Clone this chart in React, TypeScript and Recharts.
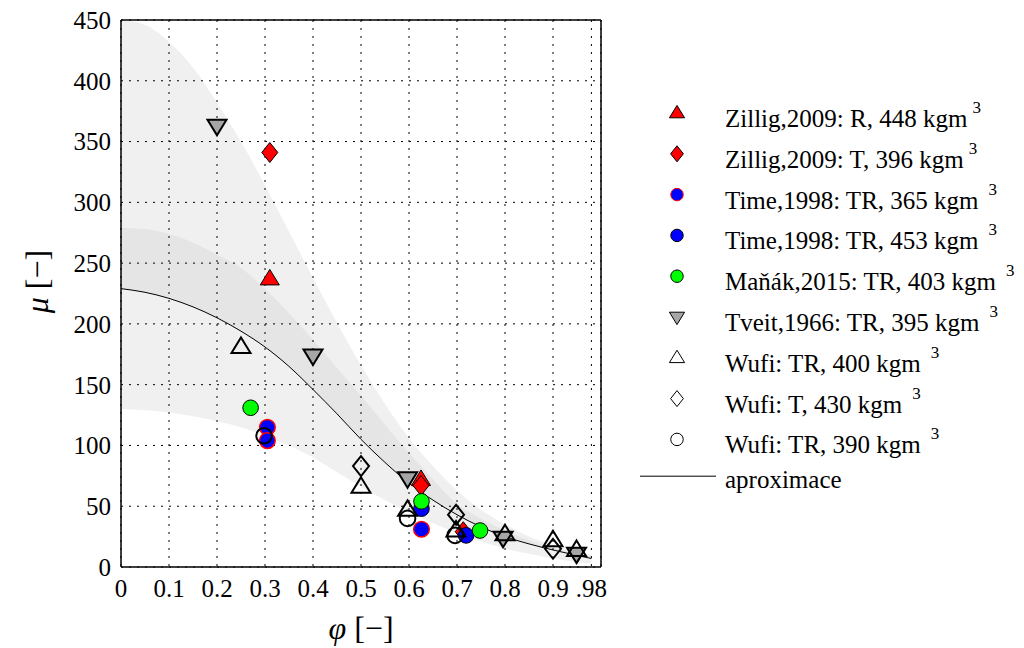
import React from "react";
import {
  ComposedChart,
  Area,
  Line,
  Scatter,
  XAxis,
  YAxis,
  CartesianGrid,
} from "recharts";

const FONT = "Liberation Serif";

// approximation curve with its two uncertainty bands
const fitPhi = [0, 0.05, 0.1, 0.15, 0.2, 0.25, 0.3, 0.35, 0.4, 0.45, 0.5, 0.55, 0.6, 0.65, 0.7, 0.75, 0.8, 0.85, 0.9, 0.95, 0.98];
const fitMu = [229, 226, 221, 214, 205, 194, 181, 165, 146, 126, 105, 86, 69, 55, 43, 33, 25, 19, 14, 9.5, 7];
const outerLow = [130, 129, 127, 124, 120, 115, 108, 100, 90, 78, 66, 55, 45, 36, 28, 21, 15, 11, 7, 4, 3];
const outerHigh = [450, 446, 432, 411, 382, 350, 314, 276, 238, 201, 166, 134, 106, 83, 63, 47, 35, 25, 18, 12, 10];
const innerHigh = [279, 278, 274, 267, 257, 246, 229, 209, 187, 164, 141, 117, 94, 72, 52, 40, 30, 22, 16, 11, 9];

// measured points
const zilligR = [{ x: 0.31, y: 237 }, { x: 0.625, y: 72 }];
const zilligT = [{ x: 0.31, y: 341 }, { x: 0.625, y: 67 }, { x: 0.713, y: 29 }];
const time365 = [{ x: 0.305, y: 115 }, { x: 0.305, y: 104 }, { x: 0.626, y: 31 }];
const time453 = [{ x: 0.626, y: 48 }, { x: 0.719, y: 26 }];
const manak = [{ x: 0.27, y: 131 }, { x: 0.626, y: 54 }, { x: 0.748, y: 30 }];
const tveit = [{ x: 0.2, y: 363 }, { x: 0.4, y: 174 }, { x: 0.597, y: 73 }, { x: 0.796, y: 24 }, { x: 0.949, y: 11 }];
const wufi400 = [{ x: 0.25, y: 181 }, { x: 0.5, y: 66 }, { x: 0.597, y: 47 }, { x: 0.698, y: 30 }, { x: 0.8, y: 27 }, { x: 0.9, y: 22 }, { x: 0.949, y: 14 }];
const wufi430 = [{ x: 0.5, y: 83 }, { x: 0.698, y: 43 }, { x: 0.9, y: 15 }];
const wufi390 = [{ x: 0.298, y: 108 }, { x: 0.597, y: 40 }, { x: 0.696, y: 26 }];

const xTicks = [0, 0.1, 0.2, 0.3, 0.4, 0.5, 0.6, 0.7, 0.8, 0.9, 0.98];
const xTickLabels = ["0", "0.1", "0.2", "0.3", "0.4", "0.5", "0.6", "0.7", "0.8", "0.9", ".98"];
const xMinorTicks = [0.05, 0.1, 0.15, 0.2, 0.25, 0.3, 0.35, 0.4, 0.45, 0.5, 0.55, 0.6, 0.65, 0.7, 0.75, 0.8, 0.85, 0.9, 0.95];
const yTicks = [0, 50, 100, 150, 200, 250, 300, 350, 400, 450];

const bandRows = fitPhi.map((x, i) => ({
  x,
  fit: fitMu[i],
  outer: [outerLow[i], outerHigh[i]],
  inner: [fitMu[i], innerHigh[i]],
}));

type Sym = "up" | "down" | "diamond" | "circle";

const SERIES: { name: string; data: { x: number; y: number }[]; sym: Sym; fill: string; stroke: string; sw: number }[] = [
  { name: "Zillig,2009: R, 448 kgm", data: zilligR, sym: "up", fill: "#ff0000", stroke: "#000", sw: 1 },
  { name: "Zillig,2009: T, 396 kgm", data: zilligT, sym: "diamond", fill: "#ff0000", stroke: "#000", sw: 1 },
  { name: "Time,1998: TR, 365 kgm", data: time365, sym: "circle", fill: "#0000ff", stroke: "#ff0000", sw: 1.5 },
  { name: "Time,1998: TR, 453 kgm", data: time453, sym: "circle", fill: "#0000ff", stroke: "#000", sw: 1 },
  { name: "Maňák,2015: TR, 403 kgm", data: manak, sym: "circle", fill: "#00ff00", stroke: "#000", sw: 1 },
  { name: "Tveit,1966: TR, 395 kgm", data: tveit, sym: "down", fill: "#a6a6a6", stroke: "#000", sw: 2 },
  { name: "Wufi: TR, 400 kgm", data: wufi400, sym: "up", fill: "none", stroke: "#000", sw: 2 },
  { name: "Wufi: T, 430 kgm", data: wufi430, sym: "diamond", fill: "none", stroke: "#000", sw: 2 },
  { name: "Wufi: TR, 390 kgm", data: wufi390, sym: "circle", fill: "none", stroke: "#000", sw: 2 },
];

const SHAPES: Record<string, number[][]> = {
  up: [[0, -9.5], [9.5, 6], [-9.5, 6]],
  down: [[0, 9.5], [9.5, -6], [-9.5, -6]],
  diamond: [[0, -10], [8, 0], [0, 10], [-8, 0]],
};

function Mark({ cx, cy, sym, fill, stroke, sw, s = 1 }: any) {
  if (cx == null || cy == null) return null;
  if (sym === "circle") {
    return <circle cx={cx} cy={cy} r={7.8 * s} fill={fill} stroke={stroke} strokeWidth={sw} />;
  }
  const pts = SHAPES[sym].map(([dx, dy]) => `${cx + dx * s},${cy + dy * s}`).join(" ");
  return <polygon points={pts} fill={fill} stroke={stroke} strokeWidth={sw} strokeLinejoin="miter" />;
}

function YTitle({ viewBox }: any) {
  const cx = viewBox.x + 37;
  const cy = viewBox.y + viewBox.height / 2 - 12;
  return (
    <text x={cx} y={cy} transform={`rotate(-90 ${cx} ${cy})`} textAnchor="middle" dominantBaseline="central" fontFamily={FONT} fontSize={32} fill="#000">
      <tspan fontStyle="italic">μ</tspan> [−]
    </text>
  );
}

function XTitle({ viewBox }: any) {
  return (
    <text x={viewBox.x + viewBox.width / 2} y={viewBox.y + 72} textAnchor="middle" fontFamily={FONT} fontSize={32} fill="#000">
      <tspan fontStyle="italic">φ</tspan> [−]
    </text>
  );
}

function LegendBox() {
  const top = 113;
  const step = 40.8;
  return (
    <svg width={1024} height={648} style={{ position: "absolute", left: 0, top: 0, pointerEvents: "none" }}>
      {SERIES.map((s, i) => {
        const y = top + i * step;
        return (
          <g key={s.name}>
            <Mark cx={677} cy={y} sym={s.sym} fill={s.fill === "none" ? "#fff" : s.fill} stroke={s.stroke} sw={1} s={0.8} />
            <text x={725} y={y + 14} fontFamily={FONT} fontSize={25} fill="#000">
              {s.name}
              <tspan dx={i < 2 ? 5 : 10} dy={-14} fontSize={17}>3</tspan>
            </text>
          </g>
        );
      })}
      <line x1={640} x2={716} y1={top + 9 * step - 4} y2={top + 9 * step - 4} stroke="#000" strokeWidth={1} />
      <text x={725} y={top + 9 * step + 8} fontFamily={FONT} fontSize={25} fill="#000">aproximace</text>
    </svg>
  );
}

export default function App() {
  return (
    <div style={{ position: "absolute", left: 0, top: 0, width: 1024, height: 648, background: "#fff" }}>
      <ComposedChart width={1024} height={648} data={bandRows} margin={{ top: 19, right: 422, bottom: 0, left: 0 }}>
        <CartesianGrid stroke="#000" strokeDasharray="2 6" strokeWidth={1} />
        <XAxis
          xAxisId="minor"
          dataKey="x"
          type="number"
          domain={[0, 1]}
          ticks={xMinorTicks}
          interval={0}
          height={1}
          mirror
          tick={false}
          tickSize={5}
          tickLine={{ stroke: "#000" }}
          axisLine={false}
        />
        <XAxis
          dataKey="x"
          type="number"
          domain={[0, 1]}
          ticks={xTicks}
          interval={0}
          height={81}
          tickLine={false}
          tickMargin={6}
          tickFormatter={(v: number) => xTickLabels[xTicks.indexOf(v)] ?? String(v)}
          tick={{ fontFamily: FONT, fontSize: 25, fill: "#000" }}
          axisLine={{ stroke: "#000", strokeWidth: 1.5 }}
          label={{ content: XTitle }}
        />
        <XAxis xAxisId="top" orientation="top" type="number" domain={[0, 1]} height={1} tick={false} tickLine={false} axisLine={{ stroke: "#000", strokeWidth: 1.5 }} />
        <YAxis
          type="number"
          domain={[0, 450]}
          ticks={yTicks}
          interval={0}
          width={121}
          tickLine={false}
          tickMargin={4}
          tick={{ fontFamily: FONT, fontSize: 25, fill: "#000" }}
          axisLine={{ stroke: "#000", strokeWidth: 1.5 }}
          label={{ content: YTitle }}
        />
        <YAxis yAxisId="right" orientation="right" type="number" domain={[0, 450]} width={1} tick={false} tickLine={false} axisLine={{ stroke: "#000", strokeWidth: 1.5 }} />
        <Area dataKey="outer" type="monotone" stroke="none" fill="#000" fillOpacity={0.06} isAnimationActive={false} />
        <Area dataKey="inner" type="monotone" stroke="none" fill="#000" fillOpacity={0.045} isAnimationActive={false} />
        <Line dataKey="fit" type="monotone" stroke="#000" strokeWidth={1} dot={false} activeDot={false} isAnimationActive={false} />
        {SERIES.map((s) => (
          <Scatter
            key={s.name}
            name={s.name}
            data={s.data}
            dataKey="y"
            isAnimationActive={false}
            shape={(p: any) => <Mark cx={p.cx} cy={p.cy} sym={s.sym} fill={s.fill} stroke={s.stroke} sw={s.sw} />}
          />
        ))}
      </ComposedChart>
      <LegendBox />
    </div>
  );
}
